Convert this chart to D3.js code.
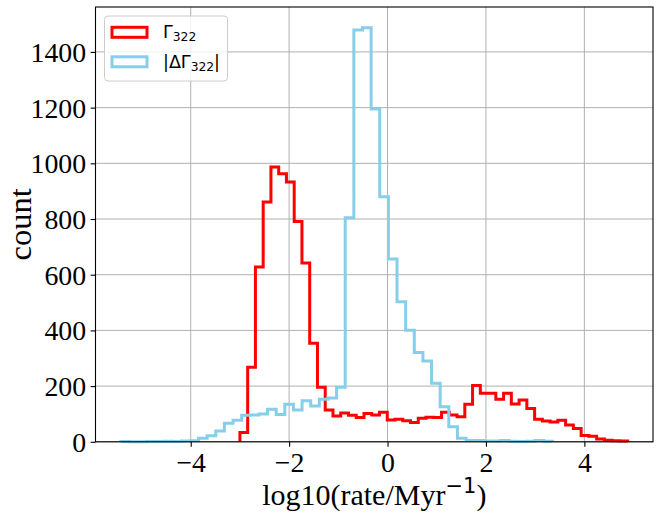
<!DOCTYPE html>
<html lang="en">
<head>
    <meta charset="UTF-8">
    <title>rate histogram</title>
    <script src="https://d3js.org/d3.v7.min.js" charset="utf-8"></script>
    <style>
        body {
            margin: 0;
            padding: 0;
            background: #fff;
        }
        .tick text {
            font-family: "Liberation Serif", "Times New Roman", serif;
            font-size: 27.8px;
            fill: #000;
        }
        .grid line {
            stroke: #b0b0b0;
            stroke-width: 1;
        }
        .hist {
            fill: none;
            stroke-width: 3;
            stroke-linejoin: miter;
        }
        .label {
            font-family: "Liberation Serif", "Times New Roman", serif;
            font-size: 30px;
            fill: #000;
        }
        .legend text {
            font-family: "DejaVu Sans", sans-serif;
            font-size: 17.5px;
        }
    </style>
</head>
<body>
<svg width="660" height="521"></svg>
<script>
    // bins: 50 per series, edges from range
    var nBins = 50;
    var redRange = [-3.00, 4.88];
    var blueRange = [-5.42, 3.35];

    // counts of Gamma_322
    var redCounts = [33, 268, 628, 861, 987, 963, 933, 791, 642, 354,
        196, 114, 93, 103, 95, 87, 102, 96, 106, 78,
        81, 76, 69, 85, 88, 87, 106, 96, 90, 135,
        202, 174, 174, 153, 174, 136, 150, 120, 81, 75,
        71, 77, 60, 48, 23, 20, 10, 6, 4, 3];

    // counts of |Delta Gamma_322|
    var blueCounts = [1, 0, 0, 1, 1, 2, 1, 3, 4, 13,
        22, 39, 67, 77, 95, 96, 100, 117, 98, 135,
        114, 147, 129, 153, 157, 196, 805, 1479, 1487, 1195,
        880, 656, 503, 401, 321, 290, 210, 126, 54, 13,
        5, 5, 3, 3, 5, 2, 1, 2, 5, 2];

    var xTicks = [-4, -2, 0, 2, 4];
    var yTicks = [0, 200, 400, 600, 800, 1000, 1200, 1400];

    var series = [
        {name: 'red', color: '#ff0000', range: redRange, counts: redCounts},
        {name: 'blue', color: '#87ceeb', range: blueRange, counts: blueCounts}
    ];

    // plot box (window.top is taken, so prefixed names)
    var pLeft = 95.5, pRight = 653, pTop = 7, pBottom = 441.8;

    // matplotlib-like 5% margins on x, sticky zero on y
    var xmin = d3.min(series, function(s) { return s.range[0]; });
    var xmax = d3.max(series, function(s) { return s.range[1]; });
    var pad = (xmax - xmin) * 0.05;
    var ymax = d3.max(series, function(s) { return d3.max(s.counts); }) * 1.05;

    var x = d3.scaleLinear().domain([xmin - pad, xmax + pad]).range([pLeft, pRight]);
    var y = d3.scaleLinear().domain([0, ymax]).range([pBottom, pTop]);

    var svg = d3.select('svg');

    // grid
    var grid = svg.append('g').attr('class', 'grid');
    grid.selectAll('.gx').data(xTicks).enter().append('line')
            .attr('x1', function(d) { return x(d); })
            .attr('x2', function(d) { return x(d); })
            .attr('y1', pTop).attr('y2', pBottom);
    grid.selectAll('.gy').data(yTicks).enter().append('line')
            .attr('y1', function(d) { return y(d); })
            .attr('y2', function(d) { return y(d); })
            .attr('x1', pLeft).attr('x2', pRight);

    // step outlines
    function stepPoints(s) {
        var w = (s.range[1] - s.range[0]) / nBins;
        var pts = [[s.range[0], 0]];
        s.counts.forEach(function(c, i) {
            pts.push([s.range[0] + i * w, c]);
            pts.push([s.range[0] + (i + 1) * w, c]);
        });
        pts.push([s.range[1], 0]);
        return pts;
    }
    var line = d3.line()
            .x(function(d) { return x(d[0]); })
            .y(function(d) { return y(d[1]); });

    svg.selectAll('.hist').data(series).enter().append('path')
            .attr('class', 'hist')
            .attr('stroke', function(d) { return d.color; })
            .attr('d', function(d) { return line(stepPoints(d)); });

    // frame
    svg.append('rect')
            .attr('x', pLeft).attr('y', pTop)
            .attr('width', pRight - pLeft).attr('height', pBottom - pTop)
            .attr('fill', 'none').attr('stroke', '#000').attr('stroke-width', 1.1);

    // axes
    var xAxis = d3.axisBottom(x).tickValues(xTicks).tickSize(4.9).tickPadding(4)
            .tickFormat(function(d) { return d < 0 ? '\u2212' + Math.abs(d) : d; });
    var yAxis = d3.axisLeft(y).tickValues(yTicks).tickSize(4.9).tickPadding(4.5)
            .tickFormat(d3.format('d'));

    var gx = svg.append('g').attr('transform', 'translate(0,' + pBottom + ')').call(xAxis);
    var gy = svg.append('g').attr('transform', 'translate(' + pLeft + ',0)').call(yAxis);
    [gx, gy].forEach(function(g) {
        g.select('.domain').remove();
        g.selectAll('.tick line').attr('stroke', '#000').attr('stroke-width', 1.1);
        g.selectAll('.tick text').attr('font-family', null).attr('font-size', null);
    });
    gx.selectAll('.tick text').attr('dy', '0.78em');
    gy.selectAll('.tick text').attr('dy', '0.34em');

    // axis labels
    var xl = svg.append('text').attr('class', 'label')
            .attr('x', (pLeft + pRight) / 2).attr('y', 505)
            .attr('text-anchor', 'middle');
    xl.append('tspan').text('log10(rate/Myr');
    xl.append('tspan').attr('dy', -12).attr('font-family', 'DejaVu Sans')
            .attr('font-size', 21).text('\u22121');
    xl.append('tspan').attr('dy', 12).text(')');

    svg.append('text').attr('class', 'label')
            .attr('transform', 'translate(31,' + (pTop + pBottom) / 2 + ') rotate(-90)')
            .attr('text-anchor', 'middle')
            .style('font-size', '32.5px')
            .text('count');

    // legend
    var legend = svg.append('g').attr('class', 'legend');
    legend.append('rect')
            .attr('x', 104.5).attr('y', 16).attr('width', 123).attr('height', 65)
            .attr('rx', 3.5).attr('fill', '#fff').attr('fill-opacity', 0.8)
            .attr('stroke', '#cccccc').attr('stroke-width', 1);

    var entries = [
        {color: '#ff0000', pre: '\u0393', sub: '322', post: ''},
        {color: '#87ceeb', pre: '|\u0394\u0393', sub: '322', post: '|'}
    ];
    var row = legend.selectAll('.row').data(entries).enter().append('g')
            .attr('transform', function(d, i) { return 'translate(0,' + (32.3 + i * 29.5) + ')'; });
    row.append('rect')
            .attr('x', 112).attr('y', -5).attr('width', 35).attr('height', 10)
            .attr('fill', 'none').attr('stroke-width', 3)
            .attr('stroke', function(d) { return d.color; });
    var t = row.append('text').attr('x', 163).attr('y', 6);
    t.append('tspan').text(function(d) { return d.pre; });
    t.append('tspan').attr('dy', 3).attr('font-size', 12.3).text(function(d) { return d.sub; });
    t.append('tspan').attr('dy', -3).text(function(d) { return d.post; });
</script>
</body>
</html>
